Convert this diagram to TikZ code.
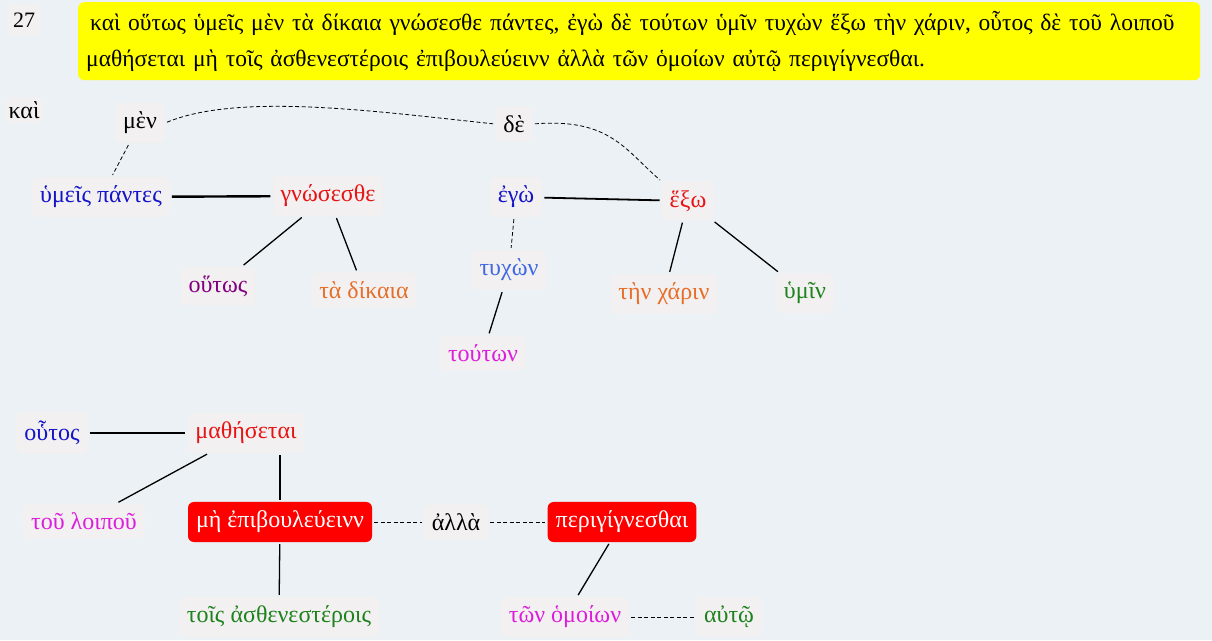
\documentclass[tikz,border=0pt]{standalone}
\usepackage{fontspec}
\setmainfont{Liberation Serif}
\usetikzlibrary{positioning}

\definecolor{bgcol}{RGB}{235,241,244}
\definecolor{boxcol}{RGB}{242,240,240}
\definecolor{hlyellow}{RGB}{255,255,0}
\definecolor{fullred}{RGB}{255,0,0}
\definecolor{wred}{RGB}{230,20,20}
\definecolor{wblue}{RGB}{20,20,200}
\definecolor{wroyal}{RGB}{65,105,225}
\definecolor{wpurple}{RGB}{128,0,128}
\definecolor{worange}{RGB}{230,110,40}
\definecolor{wgreen}{RGB}{30,130,30}
\definecolor{wmagenta}{RGB}{220,30,220}

\begin{document}
\begin{tikzpicture}[x=1pt,y=-1pt]
	\tikzstyle{word}=[fill=boxcol,rounded corners=6pt,inner xsep=8pt,inner ysep=9pt,font=\fontsize{24}{28}\selectfont]
	\tikzstyle{verb}=[word,fill=fullred,text=white]
	\tikzstyle{link}=[line width=1.3pt,shorten <=2pt,shorten >=2pt]
	\tikzstyle{bond}=[line width=2.4pt,shorten <=2pt,shorten >=2pt]
	\tikzstyle{conj}=[dash pattern=on 4pt off 2.5pt,line width=0.8pt,shorten <=2pt,shorten >=2pt]
	\fill [bgcol] (0,0) rectangle (1212,640);
	% heading
	\node [word,minimum width=32pt,minimum height=31pt,inner sep=2pt,font=\fontsize{22}{26}\selectfont] (num) at (24,20) {27};
	\node [fill=hlyellow,rounded corners=6pt,anchor=north west,minimum width=1122pt,minimum height=78pt,
	  align=left,text width=1106pt,inner xsep=8pt,inner ysep=8pt,font=\fontsize{23.5}{36}\selectfont] (head) at (78,2)
	  {\,καὶ οὕτως ὑμεῖς μὲν τὰ δίκαια γνώσεσθε πάντες, ἐγὼ δὲ τούτων ὑμῖν τυχὼν ἕξω τὴν χάριν, οὗτος δὲ τοῦ λοιποῦ\\
	  μαθήσεται μὴ τοῖς ἀσθενεστέροις ἐπιβουλεύεινν ἀλλὰ τῶν ὁμοίων αὐτῷ περιγίγνεσθαι.};
	% first clause
	\node [word,inner sep=4pt] (kai) at (24,110) {καὶ};
	\node [word] (men) at (140,123) {μὲν};
	\node [word] (de) at (514,124) {δὲ};
	\node [word,text=wblue] (hymeis) at (101,197) {ὑμεῖς πάντες};
	\node [word,text=wred] (gnosesthe) at (328,196) {γνώσεσθε};
	\node [word,text=wpurple] (houtos) at (218,286) {οὕτως};
	\node [word,text=worange] (dikaia) at (364,290) {τὰ δίκαια};
	% second clause
	\node [word,text=wblue] (ego) at (516,197) {ἐγὼ};
	\node [word,text=wred] (hexo) at (688,201) {ἕξω};
	\node [word,text=wroyal] (tychon) at (509,270) {τυχὼν};
	\node [word,text=worange] (charin) at (664,294) {τὴν χάριν};
	\node [word,text=wgreen] (hymin) at (805,293) {ὑμῖν};
	\node [word,text=wmagenta] (touton) at (483,353) {τούτων};
	% third clause
	\node [word,text=wblue] (houtos2) at (52,433) {οὗτος};
	\node [word,text=wred] (mathesetai) at (246,433) {μαθήσεται};
	\node [word,text=wmagenta] (loipou) at (84,521) {τοῦ λοιποῦ};
	\node [verb] (epibouleuein) at (280,522) {μὴ ἐπιβουλεύεινν};
	\node [word] (alla) at (456,522) {ἀλλὰ};
	\node [verb] (perigignesthai) at (622,522) {περιγίγνεσθαι};
	\node [word,text=wgreen] (astheneste) at (279,617) {τοῖς ἀσθενεστέροις};
	\node [word,text=wmagenta] (homoion) at (565,617) {τῶν ὁμοίων};
	\node [word,text=wgreen] (auto) at (729,617) {αὐτῷ};
	% connectors
	\draw [conj] (men) -- (hymeis);
	\draw [conj] (men.east) .. controls (240,92) and (380,112) .. (de.west);
	\draw [conj] (de.east) .. controls (610,118) and (625,150) .. (hexo.north west);
	\draw [bond] (hymeis) -- (gnosesthe);
	\draw [link] (gnosesthe) -- (houtos);
	\draw [link] (gnosesthe) -- (dikaia);
	\draw [link,line width=1.8pt] (ego) -- (hexo);
	\draw [conj] (ego) -- (tychon);
	\draw [link] (tychon) -- (touton);
	\draw [link] (hexo) -- (charin);
	\draw [link] (hexo) -- (hymin);
	\draw [bond] (houtos2) -- (mathesetai);
	\draw [link] (mathesetai) -- (loipou);
	\draw [link] (mathesetai.south -| epibouleuein) -- (epibouleuein);
	\draw [link] (epibouleuein) -- (astheneste);
	\draw [conj] (epibouleuein) -- (alla);
	\draw [conj] (alla) -- (perigignesthai);
	\draw [link] (perigignesthai) -- (homoion);
	\draw [conj] (homoion) -- (auto);
\end{tikzpicture}
\end{document}
